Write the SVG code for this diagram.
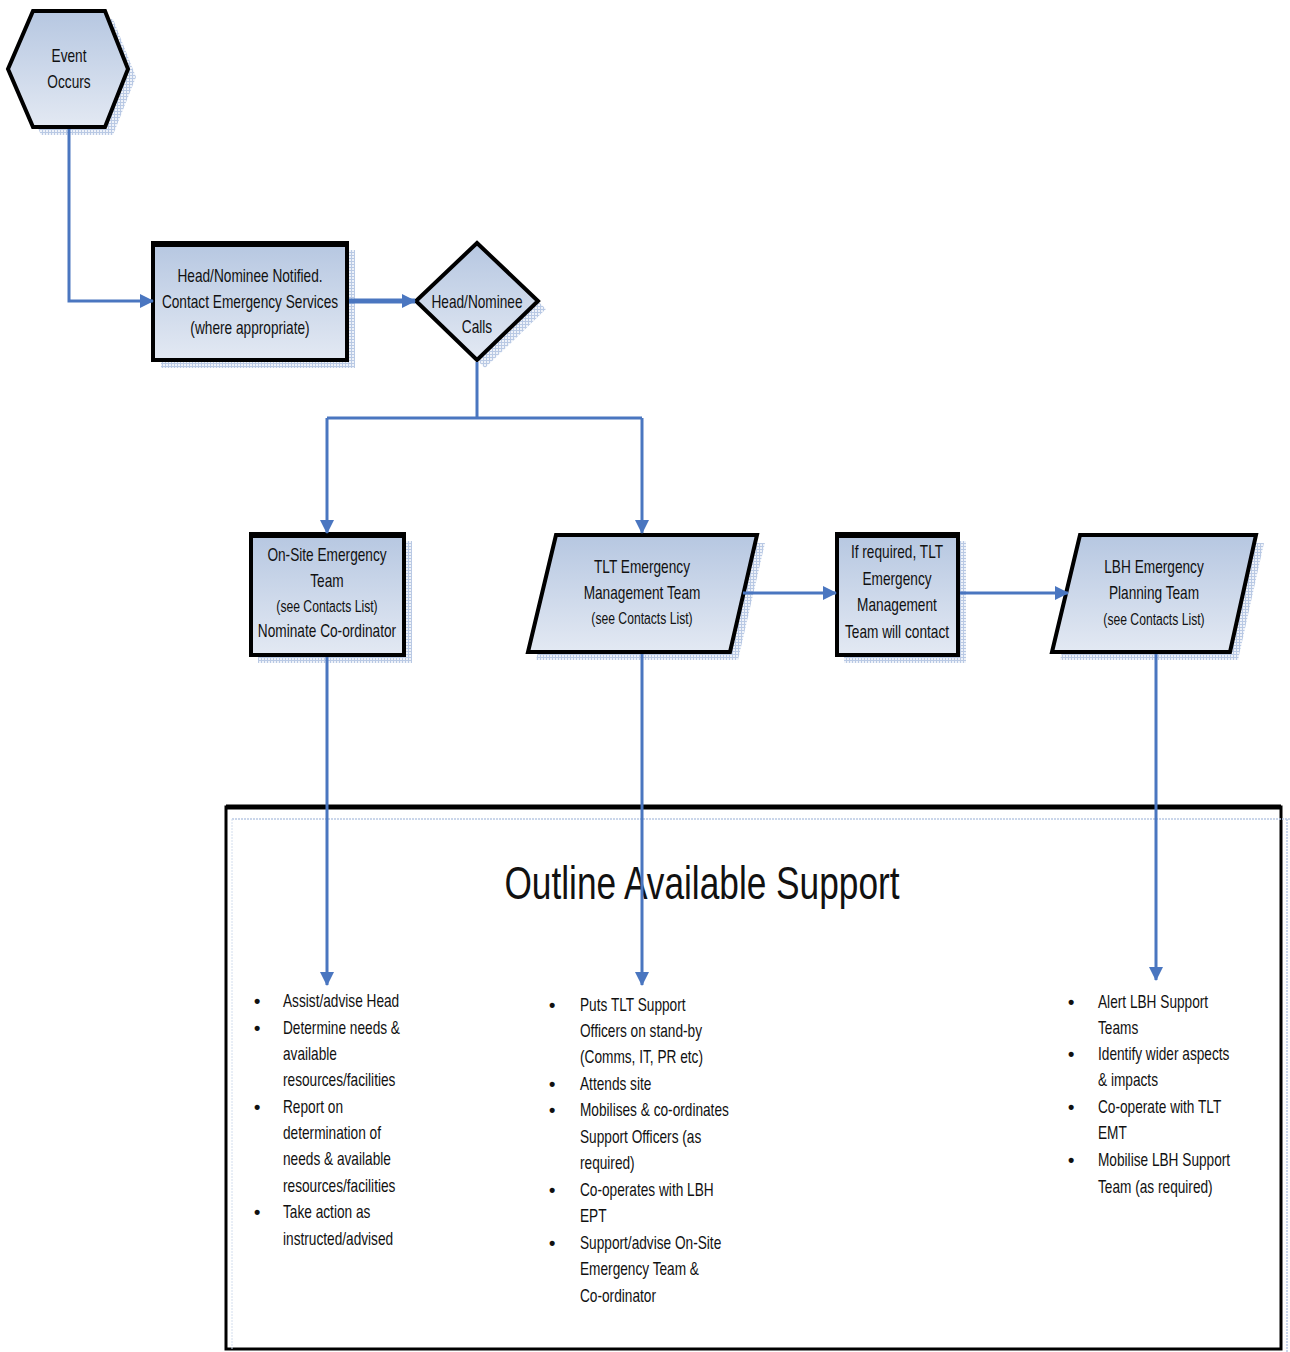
<svg xmlns="http://www.w3.org/2000/svg" width="1290" height="1352" viewBox="0 0 1290 1352">
<defs>
<linearGradient id="fill" x1="0" y1="0" x2="0" y2="1">
<stop offset="0" stop-color="#b6c7e1"/>
<stop offset="1" stop-color="#e3e9f3"/>
</linearGradient>
<pattern id="hatch" width="3" height="3" patternUnits="userSpaceOnUse">
<rect width="3" height="3" fill="#eef2f9"/>
<path d="M0 0.5H3M0.5 0V3" stroke="#b9c9e4" stroke-width="1"/>
</pattern>
<marker id="arr" markerUnits="userSpaceOnUse" markerWidth="14" markerHeight="14" viewBox="0 0 14 14" refX="13" refY="7" orient="auto">
<path d="M0 0L14 7L0 14Z" fill="#4a76c0"/>
</marker>
<style>
.shape{fill:url(#fill);stroke:#000;stroke-width:4;stroke-linejoin:miter}
.shadow{fill:url(#hatch)}
.t{font-family:"Liberation Sans",Arial,sans-serif;font-size:18px;fill:#111;text-anchor:middle;dominant-baseline:central}
.s{font-size:16px}
.l{font-family:"Liberation Sans",Arial,sans-serif;font-size:18px;fill:#111}
.b{font-family:"Liberation Sans",Arial,sans-serif;font-size:18px;fill:#111;font-weight:bold}
.c{fill:none;stroke:#4a76c0;stroke-width:3}
.cb{fill:none;stroke:#4a76c0;stroke-width:5}
</style>
</defs>
<rect width="1290" height="1352" fill="#fff"/>

<g id="support-box">
<rect x="226" y="807" width="1055" height="542" fill="#fff" stroke="#000" stroke-width="3"/>
<line x1="226" y1="807" x2="1281" y2="807" stroke="#000" stroke-width="5"/>
<line x1="232" y1="819" x2="1290" y2="819" stroke="#b9c9e4" stroke-width="1.5" stroke-dasharray="2 1"/>
<line x1="1287" y1="819" x2="1287" y2="1352" stroke="#b9c9e4" stroke-width="1.5" stroke-dasharray="2 1"/>
<line x1="232" y1="819" x2="232" y2="1349" stroke="#d3deee" stroke-width="1" stroke-dasharray="2 1"/>
<g transform="matrix(0.75 0 0 1 175.5 0)">
<text x="702" y="883" class="t" style="font-size:47px">Outline Available Support</text>
</g>
</g>

<g id="event-occurs">
<polygon class="shadow" points="41,19 113,19 136,77 113,135 41,135 16,77"/>
<polygon class="shape" points="33,11 105,11 128,69 105,127 33,127 8,69"/>
<g transform="matrix(0.76 0 0 1 16.56 0)">
<text class="t" x="69" y="56">Event</text>
<text class="t" x="69" y="82">Occurs</text>
</g>
</g>

<g id="head-notified">
<rect class="shadow" x="161" y="250" width="194" height="118"/>
<rect class="shape" x="153" y="243" width="194" height="117"/>
<line x1="153" y1="244" x2="347" y2="244" stroke="#000" stroke-width="6"/>
<g transform="matrix(0.76 0 0 1 60 0)">
<text class="t" x="250" y="276">Head/Nominee Notified.</text>
<text class="t" x="250" y="302">Contact Emergency Services</text>
<text class="t" x="250" y="328">(where appropriate)</text>
</g>
</g>

<g id="head-calls">
<polygon class="shadow" points="485,251 546,309 485,368 424,309"/>
<polygon class="shape" points="477,243 538,301 477,360 416,301"/>
<g transform="matrix(0.76 0 0 1 114.48 0)">
<text class="t" x="477" y="302">Head/Nominee</text>
<text class="t" x="477" y="327">Calls</text>
</g>
</g>

<g id="onsite-team">
<rect class="shadow" x="258" y="541" width="154" height="122"/>
<rect class="shape" x="251" y="534" width="153" height="121"/>
<line x1="251" y1="535" x2="404" y2="535" stroke="#000" stroke-width="6"/>
<g transform="matrix(0.76 0 0 1 78.48 0)">
<text class="t" x="327" y="555">On-Site Emergency</text>
<text class="t" x="327" y="581">Team</text>
<text class="t s" x="327" y="606">(see Contacts List)</text>
<text class="t" x="327" y="631">Nominate Co-ordinator</text>
</g>
</g>

<g id="tlt-emt">
<polygon class="shadow" points="564,543 765,543 738,660 536,660"/>
<polygon class="shape" points="556,535 757,535 730,652 528,652"/>
<g transform="matrix(0.76 0 0 1 154.08 0)">
<text class="t" x="642" y="567">TLT Emergency</text>
<text class="t" x="642" y="593">Management Team</text>
<text class="t s" x="642" y="618">(see Contacts List)</text>
</g>
</g>

<g id="tlt-will-contact">
<rect class="shadow" x="844" y="541" width="122" height="122"/>
<rect class="shape" x="837" y="534" width="121" height="121"/>
<line x1="837" y1="535" x2="958" y2="535" stroke="#000" stroke-width="6"/>
<g transform="matrix(0.76 0 0 1 215.28 0)">
<text class="t" x="897" y="552">If required, TLT</text>
<text class="t" x="897" y="579">Emergency</text>
<text class="t" x="897" y="605">Management</text>
<text class="t" x="897" y="632">Team will contact</text>
</g>
</g>

<g id="lbh-ept">
<polygon class="shadow" points="1088,543 1264,543 1238,660 1060,660"/>
<polygon class="shape" points="1080,535 1256,535 1230,652 1052,652"/>
<g transform="matrix(0.76 0 0 1 276.96 0)">
<text class="t" x="1154" y="567">LBH Emergency</text>
<text class="t" x="1154" y="593">Planning Team</text>
<text class="t s" x="1154" y="619">(see Contacts List)</text>
</g>
</g>

<g id="connectors">
<polyline class="c" points="69,129 69,301 153,301" marker-end="url(#arr)"/>
<line class="cb" x1="349" y1="301" x2="415" y2="301" marker-end="url(#arr)"/>
<polyline class="c" points="477,362 477,418"/>
<polyline class="c" points="327,418 642,418"/>
<polyline class="c" points="327,418 327,533" marker-end="url(#arr)"/>
<polyline class="c" points="642,418 642,533" marker-end="url(#arr)"/>
<line class="c" x1="743" y1="593" x2="836" y2="593" marker-end="url(#arr)"/>
<line class="c" x1="960" y1="593" x2="1068" y2="593" marker-end="url(#arr)"/>
<line class="c" x1="327" y1="657" x2="327" y2="985" marker-end="url(#arr)"/>
<line class="c" x1="642" y1="654" x2="642" y2="985" marker-end="url(#arr)"/>
<line class="c" x1="1156" y1="654" x2="1156" y2="980" marker-end="url(#arr)"/>
</g>

<g id="list-onsite">
<g class="b">
<text x="254" y="1007">•</text>
<text x="254" y="1034">•</text>
<text x="254" y="1113">•</text>
<text x="254" y="1218">•</text>
</g>
<g class="l" transform="matrix(0.76 0 0 1 67.92 0)">
<text x="283" y="1007">Assist/advise Head</text>
<text x="283" y="1034">Determine needs &amp;</text>
<text x="283" y="1060">available</text>
<text x="283" y="1086">resources/facilities</text>
<text x="283" y="1113">Report on</text>
<text x="283" y="1139">determination of</text>
<text x="283" y="1165">needs &amp; available</text>
<text x="283" y="1192">resources/facilities</text>
<text x="283" y="1218">Take action as</text>
<text x="283" y="1245">instructed/advised</text>
</g>
</g>

<g id="list-tlt">
<g class="b">
<text x="549" y="1011">•</text>
<text x="549" y="1090">•</text>
<text x="549" y="1116">•</text>
<text x="549" y="1196">•</text>
<text x="549" y="1249">•</text>
</g>
<g class="l" transform="matrix(0.76 0 0 1 139.2 0)">
<text x="580" y="1011">Puts TLT Support</text>
<text x="580" y="1037">Officers on stand-by</text>
<text x="580" y="1063">(Comms, IT, PR etc)</text>
<text x="580" y="1090">Attends site</text>
<text x="580" y="1116">Mobilises &amp; co-ordinates</text>
<text x="580" y="1143">Support Officers (as</text>
<text x="580" y="1169">required)</text>
<text x="580" y="1196">Co-operates with LBH</text>
<text x="580" y="1222">EPT</text>
<text x="580" y="1249">Support/advise On-Site</text>
<text x="580" y="1275">Emergency Team &amp;</text>
<text x="580" y="1302">Co-ordinator</text>
</g>
</g>

<g id="list-lbh">
<g class="b">
<text x="1068" y="1008">•</text>
<text x="1068" y="1060">•</text>
<text x="1068" y="1113">•</text>
<text x="1068" y="1166">•</text>
</g>
<g class="l" transform="matrix(0.76 0 0 1 263.52 0)">
<text x="1098" y="1008">Alert LBH Support</text>
<text x="1098" y="1034">Teams</text>
<text x="1098" y="1060">Identify wider aspects</text>
<text x="1098" y="1086">&amp; impacts</text>
<text x="1098" y="1113">Co-operate with TLT</text>
<text x="1098" y="1139">EMT</text>
<text x="1098" y="1166">Mobilise LBH Support</text>
<text x="1098" y="1193">Team (as required)</text>
</g>
</g>
</svg>
